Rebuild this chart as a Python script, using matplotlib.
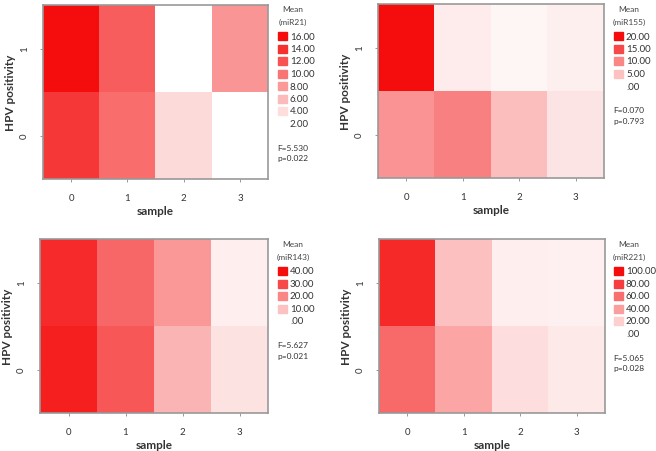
import numpy as np
import matplotlib
matplotlib.use("Agg")
import matplotlib.pyplot as plt
from matplotlib.colors import LinearSegmentedColormap, Normalize
from matplotlib.patches import Rectangle

plt.rcParams["font.family"] = ["Lato", "DejaVu Sans"]

samples = [0, 1, 2, 3]
hpv = [0, 1]

# mean values, rows = HPV positivity 0, 1; columns = sample 0..3
mir21 = [[13.5, 10.4, 4.1, 2.0],
         [16.0, 11.3, 2.0, 8.1]]
mir155 = [[8.8, 10.4, 5.4, 2.2],
          [20.5, 1.6, 0.8, 1.3]]
mir143 = [[37.0, 27.5, 12.4, 4.8],
          [35.0, 25.0, 17.0, 2.8]]
mir221 = [[62.0, 37.0, 14.0, 9.0],
          [88.0, 26.0, 7.0, 6.0]]

legend21 = [16, 14, 12, 10, 8, 6, 4, 2]
legend155 = [20, 15, 10, 5, 0]
legend143 = [40, 30, 20, 10, 0]
legend221 = [100, 80, 60, 40, 20, 0]

stats21 = "F=5.530\np=0.022"
stats155 = "F=0.070\np=0.793"
stats143 = "F=5.627\np=0.021"
stats221 = "F=5.065\np=0.028"

W, H = 656, 452
cmap = LinearSegmentedColormap.from_list("wr", ["#ffffff", "#f50d0d"])

fig = plt.figure(figsize=(W / 100, H / 100), dpi=100)


def fx(x):
    return x / W


def fy(y):
    return 1 - y / H


def panel(box, data, name, levels, stats, leg_x, leg_y):
    x0, y0, x1, y1 = box
    ax = fig.add_axes([fx(x0), fy(y1), (x1 - x0) / W, (y1 - y0) / H])
    norm = Normalize(vmin=min(levels), vmax=max(levels))
    ax.imshow(np.array(data), cmap=cmap, norm=norm, origin="lower",
              extent=[-0.5, 3.5, -0.5, 1.5], aspect="auto", interpolation="nearest")
    ax.set_xticks(samples)
    ax.set_yticks(hpv)
    ax.set_xticklabels([str(s) for s in samples], fontsize=7, color="#333333")
    ax.set_yticklabels([str(h) for h in hpv], fontsize=7, color="#333333",
                       rotation=90, va="center")
    ax.tick_params(length=2, width=0.6, color="#888888", pad=8)
    for sp in ax.spines.values():
        sp.set_color("#999999")
        sp.set_linewidth(1.2)
    ax.set_xlabel("sample", fontsize=8.5, fontweight="bold", color="#333333", labelpad=2)
    ax.set_ylabel("HPV positivity", fontsize=8.5, fontweight="bold", color="#333333", labelpad=3)

    # legend
    fig.text(fx(leg_x + 15), fy(leg_y - 27), "Mean", fontsize=6, color="#444444",
             ha="center", va="center")
    fig.text(fx(leg_x + 15), fy(leg_y - 15), "(%s)" % name, fontsize=6, color="#444444",
             ha="center", va="center")
    step = 12.5
    for i, lv in enumerate(levels):
        yc = leg_y + i * step
        fig.patches.append(Rectangle((fx(leg_x), fy(yc + 4)), 9 / W, 8 / H,
                                     transform=fig.transFigure,
                                     color=cmap(norm(lv)), zorder=3))
        label = "%.2f" % lv if lv != 0 else ".00"
        fig.text(fx(leg_x + 12), fy(yc), label, fontsize=7, color="#333333",
                 ha="left", va="center")
    yend = leg_y + (len(levels) - 1) * step
    fig.text(fx(leg_x - 1), fy(yend + 29), stats, fontsize=6, color="#333333",
             ha="left", va="center", linespacing=1.6)
    return ax


panel((43, 6, 268, 180), mir21, "miR21", legend21, stats21, 278, 37)
panel((378, 5, 604, 179), mir155, "miR155", legend155, stats155, 614, 37)
panel((40, 240, 268, 414), mir143, "miR143", legend143, stats143, 278, 272)
panel((379, 240, 605, 414), mir221, "miR221", legend221, stats221, 614, 272)

fig.savefig("out.png", dpi=100)
